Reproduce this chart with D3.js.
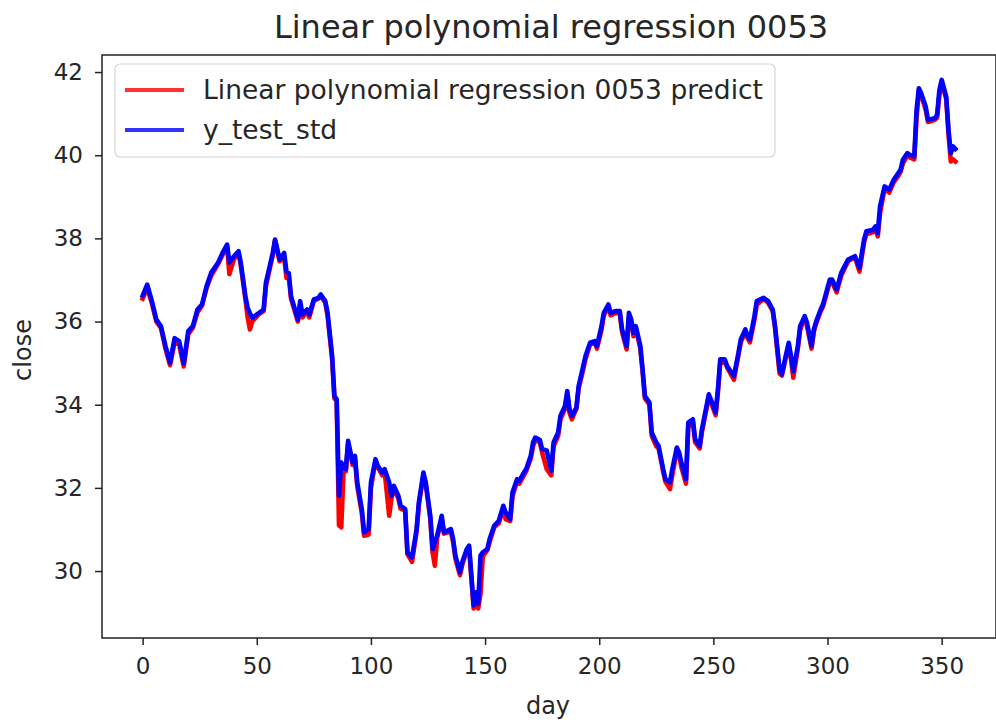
<!DOCTYPE html>
<html>
<head>
<meta charset="utf-8">
<script src="https://cdn.jsdelivr.net/npm/d3@7"></script>
<style>
  body { margin: 0; background: #fff; }
  text { font-family: "DejaVu Sans", sans-serif; fill: #262626; }
</style>
</head>
<body>
<svg id="chart" width="996" height="722"></svg>
<script>
// days where the curves change direction
const days = [
  0, 2, 4, 6, 8, 10, 12, 14, 16, 18, 20, 22, 24, 26, 28, 30, 33, 35, 37, 38,
  40, 42, 43, 45, 46, 47, 48, 51, 53, 54, 57, 58, 60, 62, 63, 64, 65, 68, 69, 70,
  72, 73, 75, 77, 78, 80, 81, 83, 84, 85, 86, 87, 88, 89, 90, 92, 93, 94, 96, 97,
  99, 100, 102, 103, 105, 106, 108, 109, 110, 112, 113, 115, 116, 118, 120, 121, 123, 124, 126, 127,
  128, 129, 131, 132, 135, 136, 137, 139, 140, 142, 143, 145, 146, 147, 148, 149, 151, 152, 154, 156,
  158, 159, 161, 162, 164, 165, 167, 168, 170, 171, 172, 174, 175, 177, 179, 180, 182, 183, 185, 186,
  187, 188, 190, 191, 193, 194, 196, 198, 199, 201, 202, 204, 205, 207, 209, 210, 212, 213, 214, 215,
  216, 218, 219, 220, 222, 223, 225, 226, 228, 229, 231, 232, 234, 235, 236, 238, 239, 241, 242, 244,
  245, 247, 248, 250, 251, 252, 253, 255, 256, 258, 259, 261, 262, 264, 265, 266, 268, 269, 272, 274,
  276, 277, 279, 280, 282, 283, 284, 285, 287, 288, 290, 291, 293, 294, 295, 297, 298, 301, 302, 304,
  306, 309, 312, 314, 316, 317, 320, 321, 322, 323, 325, 327, 329, 331, 332, 333, 335, 336, 338, 339,
  340, 341, 343, 344, 347, 348, 349, 350, 352, 353, 354, 355, 356
]

const yTestStd = [
  36.62, 36.89, 36.50, 36.05, 35.89, 35.41, 35.01, 35.60, 35.53, 35.00, 35.77, 35.89, 36.29, 36.41, 36.85, 37.17, 37.41, 37.65, 37.85, 37.42,
  37.57, 37.69, 37.41, 36.61, 36.33, 36.20, 36.09, 36.21, 36.29, 36.93, 37.65, 37.97, 37.49, 37.65, 37.20, 37.17, 36.61, 36.05, 36.49, 36.17,
  36.29, 36.17, 36.53, 36.57, 36.65, 36.49, 36.21, 35.17, 34.21, 34.13, 31.81, 32.61, 32.50, 32.45, 33.13, 32.61, 32.77, 32.13, 31.49, 30.93,
  31.01, 32.13, 32.69, 32.53, 32.37, 32.45, 32.13, 31.81, 32.05, 31.81, 31.57, 31.49, 30.45, 30.33, 31.01, 31.65, 32.37, 32.13, 31.33, 30.53,
  30.70, 30.85, 31.33, 30.93, 31.01, 30.77, 30.37, 29.97, 30.21, 30.53, 30.61, 29.17, 29.49, 29.21, 30.37, 30.45, 30.53, 30.77, 31.09, 31.21,
  31.57, 31.41, 31.25, 31.89, 32.21, 32.17, 32.37, 32.45, 32.77, 33.09, 33.21, 33.15, 32.93, 32.90, 32.41, 33.09, 33.33, 33.73, 33.97, 34.33,
  33.89, 33.73, 33.93, 34.45, 34.93, 35.17, 35.49, 35.53, 35.41, 35.89, 36.21, 36.41, 36.21, 36.25, 36.25, 35.81, 35.41, 36.21, 36.05, 35.73,
  35.89, 35.41, 34.85, 34.21, 34.05, 33.33, 33.09, 33.01, 32.45, 32.21, 32.13, 32.45, 32.97, 32.85, 32.60, 32.21, 33.57, 33.65, 33.17, 33.01,
  33.41, 33.97, 34.25, 33.97, 33.81, 34.37, 35.09, 35.09, 34.93, 34.77, 34.69, 35.25, 35.57, 35.81, 35.65, 35.57, 36.13, 36.49, 36.57, 36.49,
  36.29, 35.90, 34.85, 34.73, 35.25, 35.49, 35.17, 34.81, 35.41, 35.89, 36.13, 35.97, 35.41, 35.81, 36.00, 36.29, 36.41, 37.01, 37.01, 36.77,
  37.17, 37.49, 37.57, 37.29, 37.97, 38.17, 38.21, 38.29, 38.13, 38.77, 39.25, 39.17, 39.41, 39.57, 39.65, 39.89, 40.05, 40.01, 39.97, 41.09,
  41.61, 41.49, 41.17, 40.85, 40.89, 40.97, 41.57, 41.81, 41.41, 40.60, 40.05, 40.21, 40.15
]

const yPredict = [
  36.55, 36.80, 36.45, 36.00, 35.85, 35.35, 34.95, 35.50, 35.45, 34.92, 35.70, 35.85, 36.22, 36.38, 36.80, 37.10, 37.38, 37.60, 37.80, 37.14,
  37.50, 37.65, 37.35, 36.55, 36.10, 35.81, 36.00, 36.18, 36.25, 36.85, 37.60, 37.95, 37.45, 37.55, 37.05, 37.10, 36.55, 36.00, 36.40, 36.10,
  36.25, 36.10, 36.50, 36.55, 36.62, 36.45, 36.15, 35.10, 34.15, 34.10, 31.10, 31.05, 32.40, 32.40, 33.05, 32.55, 32.70, 32.05, 31.40, 30.85,
  30.88, 32.00, 32.65, 32.50, 32.30, 32.40, 31.33, 31.75, 32.00, 31.75, 31.50, 31.45, 30.40, 30.22, 30.95, 31.60, 32.30, 32.10, 31.25, 30.45,
  30.13, 30.80, 31.25, 30.90, 30.95, 30.70, 30.30, 29.90, 30.15, 30.50, 30.55, 29.10, 29.30, 29.10, 29.45, 30.35, 30.50, 30.70, 31.05, 31.15,
  31.50, 31.25, 31.20, 31.80, 32.15, 32.10, 32.30, 32.40, 32.70, 33.00, 33.15, 33.10, 32.85, 32.45, 32.30, 33.00, 33.25, 33.65, 33.90, 34.25,
  33.80, 33.65, 33.90, 34.40, 34.85, 35.10, 35.45, 35.50, 35.35, 35.80, 36.15, 36.35, 36.15, 36.20, 36.20, 35.75, 35.33, 36.10, 36.00, 35.65,
  35.85, 35.35, 34.80, 34.15, 34.00, 33.25, 33.00, 32.95, 32.40, 32.15, 31.97, 32.30, 32.90, 32.80, 32.50, 32.10, 33.45, 33.60, 33.10, 32.95,
  33.35, 33.90, 34.20, 33.90, 33.75, 34.30, 35.00, 35.05, 34.90, 34.70, 34.60, 35.20, 35.50, 35.75, 35.60, 35.50, 36.05, 36.40, 36.55, 36.45,
  36.25, 35.85, 34.75, 34.70, 35.20, 35.40, 35.10, 34.65, 35.35, 35.80, 36.10, 35.90, 35.35, 35.75, 35.95, 36.25, 36.35, 36.95, 36.95, 36.70,
  37.10, 37.45, 37.55, 37.20, 37.90, 38.10, 38.15, 38.25, 38.05, 38.60, 39.20, 39.10, 39.35, 39.50, 39.60, 39.80, 40.00, 39.95, 39.90, 40.90,
  41.55, 41.45, 41.10, 40.80, 40.85, 40.90, 41.45, 41.75, 41.35, 40.50, 39.85, 39.90, 39.85
]

const xTicks = [0, 50, 100, 150, 200, 250, 300, 350]
const yTicks = [30, 32, 34, 36, 38, 40, 42]
const seriesNames = ['Linear polynomial regression 0053 predict', 'y_test_std']
const seriesColors = ['#ff0000', '#0000ff']
const titleText = 'Linear polynomial regression 0053'

function drawChart() {
  const svg = d3.select('#chart')
  const left = 102, right = 996, top = 55, bottom = 638

  const x = d3.scaleLinear().domain([-17.8, 373.8]).range([left, right])
  const y = d3.scaleLinear().domain([28.39, 42.41]).range([bottom, top])

  const line = d3.line()
    .x((d, i) => x(days[i]))
    .y(d => y(d))

  // predict first, the test curve is drawn over it
  ;[yPredict, yTestStd].forEach((vals, k) => {
    svg.append('path')
      .datum(vals)
      .attr('d', line)
      .attr('fill', 'none')
      .attr('stroke', seriesColors[k])
      .attr('stroke-width', 4.6)
      .attr('stroke-linejoin', 'round')
      .attr('stroke-linecap', 'square')
  })

  // axes
  const xAxis = svg.append('g')
    .attr('transform', `translate(0,${bottom})`)
    .call(d3.axisBottom(x).tickValues(xTicks).tickSize(7).tickPadding(13))
  const yAxis = svg.append('g')
    .attr('transform', `translate(${left},0)`)
    .call(d3.axisLeft(y).tickValues(yTicks).tickSize(7).tickPadding(12))

  ;[xAxis, yAxis].forEach(ax => {
    ax.select('.domain').remove()
    ax.selectAll('line').attr('stroke', '#222').attr('stroke-width', 1.5)
    ax.selectAll('text')
      .attr('font-family', '"DejaVu Sans", sans-serif')
      .attr('font-size', 23)
      .attr('fill', '#262626')
  })

  svg.append('rect')
    .attr('x', left).attr('y', top)
    .attr('width', right - left).attr('height', bottom - top)
    .attr('fill', 'none')
    .attr('stroke', '#222')
    .attr('stroke-width', 1.5)

  // labels
  svg.append('text')
    .attr('x', 551)
    .attr('y', 38)
    .attr('text-anchor', 'middle')
    .attr('font-size', 32)
    .text(titleText)

  svg.append('text')
    .attr('x', 548)
    .attr('y', 714)
    .attr('text-anchor', 'middle')
    .attr('font-size', 24)
    .text('day')

  svg.append('text')
    .attr('transform', 'translate(31,350) rotate(-90)')
    .attr('text-anchor', 'middle')
    .attr('font-size', 24)
    .text('close')

  // legend
  const lg = svg.append('g')
  lg.append('rect')
    .attr('x', 115).attr('y', 64)
    .attr('width', 660).attr('height', 93)
    .attr('rx', 5)
    .attr('fill', '#fff')
    .attr('fill-opacity', 0.8)
    .attr('stroke', '#d5d5d5')
    .attr('stroke-width', 1.2)

  seriesNames.forEach((name, i) => {
    const cy = 90 + i * 40
    lg.append('line')
      .attr('x1', 125).attr('x2', 184)
      .attr('y1', cy).attr('y2', cy)
      .attr('stroke', seriesColors[i])
      .attr('stroke-opacity', 0.8)
      .attr('stroke-width', 4)
    lg.append('text')
      .attr('x', 203)
      .attr('y', cy + 9)
      .attr('font-size', 26.5)
      .text(name)
  })
}

document.addEventListener('DOMContentLoaded', drawChart, false)
</script>
</body>
</html>
